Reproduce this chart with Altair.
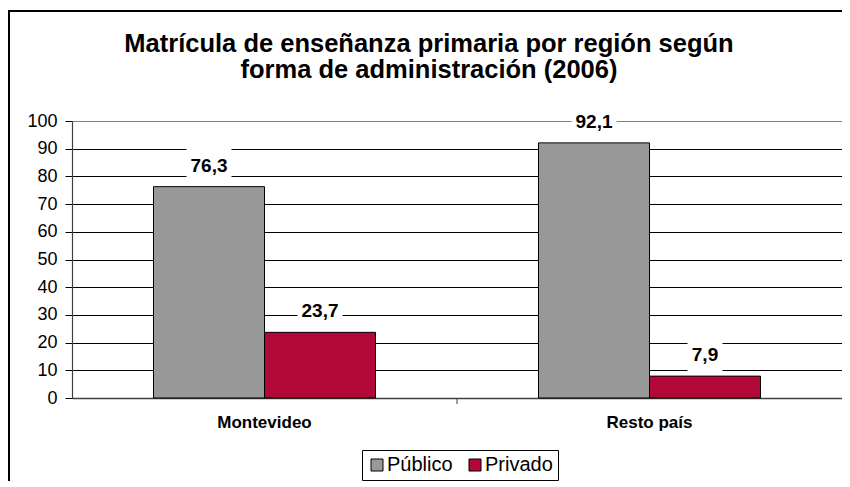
import altair as alt
import pandas as pd

regions = ["Montevideo", "Resto país"]
series = ["Público", "Privado"]
publico = [76.3, 92.1]
privado = [23.7, 7.9]
colors = ["#999999", "#B20838"]
title_lines = ["Matrícula de enseñanza primaria por región según",
               "forma de administración (2006)"]

rows = []
for r, vp, vv in zip(regions, publico, privado):
    for s, v in zip(series, [vp, vv]):
        lab = f"{v:.1f}".replace(".", ",")
        rows.append({"region": r, "serie": s, "value": v, "label": lab,
                     "boxw": 10 * len(lab) + 5})
df = pd.DataFrame(rows)

FONT = "Liberation Sans"
W, H = 770, 277

x_enc = alt.X("region:N", sort=regions,
              scale=alt.Scale(paddingInner=0.4234, paddingOuter=0.2117),
              axis=alt.Axis(title=None, labelAngle=0, ticks=False, labelPadding=16,
                            labelFont=FONT, labelFontSize=17, labelFontWeight="bold",
                            labelColor="black", domainColor="#404040", domainWidth=1.5,
                            grid=False))
xo_enc = alt.XOffset("serie:N", sort=series,
                     scale=alt.Scale(paddingInner=0, paddingOuter=0))
y_enc = alt.Y("value:Q",
              scale=alt.Scale(domain=[0, 100], nice=False),
              axis=alt.Axis(title=None, values=list(range(0, 101, 10)),
                            labelFont=FONT, labelFontSize=18, labelColor="black",
                            tickSize=7, tickColor="black", labelPadding=8,
                            domainColor="#404040", domainWidth=1.2,
                            gridColor={"condition": {"test": "datum.value === 100",
                                                     "value": "#808080"},
                                       "value": "black"},
                            gridWidth=1, gridOpacity=1))

base = alt.Chart(df)

bars = base.mark_bar(stroke="black", strokeWidth=1).encode(
    x=x_enc, xOffset=xo_enc, y=y_enc,
    color=alt.Color("serie:N", sort=series,
                    scale=alt.Scale(domain=series, range=colors),
                    legend=alt.Legend(title=None, orient="none", legendX=290, legendY=329,
                                      direction="horizontal", symbolType="square",
                                      symbolSize=144, symbolStrokeColor="black",
                                      symbolStrokeWidth=1, labelFont=FONT,
                                      labelFontSize=20, labelColor="black",
                                      strokeColor="black", fillColor="white",
                                      padding=5, columnPadding=12, labelOffset=0)),
)

boxes = base.mark_bar(color="white", yOffset=-39, y2Offset=-4).encode(
    x=x_enc, xOffset=xo_enc, y=y_enc, y2=alt.Y2("value:Q"),
    size=alt.Size("boxw:Q", scale=None, legend=None),
)

labels = base.mark_text(font=FONT, fontSize=19, fontWeight="bold", color="black",
                        baseline="middle", dy=-21).encode(
    x=x_enc, xOffset=xo_enc, y=y_enc, text="label:N",
)

one = alt.Chart(pd.DataFrame({"k": [0]}))
tick = one.mark_rule(color="#404040", strokeWidth=1).encode(
    x=alt.value(W / 2), y=alt.value(H), y2=alt.value(H + 6))
frame = one.mark_rect(fillOpacity=0, stroke="black", strokeWidth=2).encode(
    x=alt.value(-63), x2=alt.value(900), y=alt.value(-110), y2=alt.value(600))

chart = alt.layer(bars, boxes, labels, tick, frame).properties(
    width=W, height=H,
    title=alt.TitleParams(text=title_lines, font=FONT, fontSize=25.5, fontWeight="bold",
                          color="black", anchor="middle", frame="group", dx=-28,
                          baseline="bottom", offset=-98, lineHeight=26),
    autosize=alt.AutoSizeParams(type="none"),
    padding={"left": 64, "top": 113, "right": 0, "bottom": 83},
).configure_view(stroke="#808080", strokeWidth=1).configure(background="white")

chart.save("out.html", embed_options={"renderer": "svg", "actions": False})
